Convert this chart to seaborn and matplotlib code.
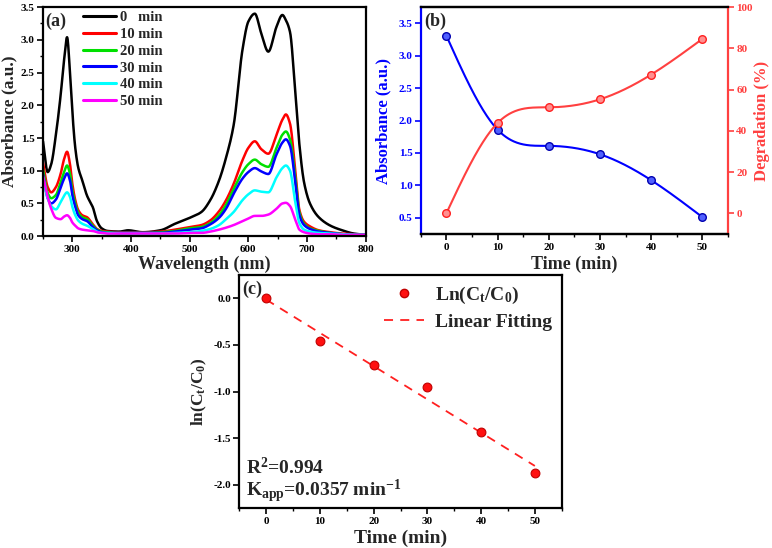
import numpy as np
import pandas as pd
import matplotlib
matplotlib.use("Agg")
import matplotlib.pyplot as plt
from matplotlib.ticker import MultipleLocator
from matplotlib.lines import Line2D
import seaborn as sns

# ---------------- data ----------------
wavelength = [250, 258, 264, 272, 280, 286, 291, 296, 300, 305,
              310, 317, 325, 335, 342, 350, 360, 380, 395, 420,
              450, 475, 500, 520, 535, 550, 562, 575, 590, 600,
              611, 622, 634, 648, 658, 664, 671, 680, 687, 695,
              705, 720, 740, 760, 780, 800]
abs_0 = [1.45, 0.98, 1.10, 1.55, 2.15, 2.70, 3.04, 2.50, 1.90, 1.35,
         1.05, 0.85, 0.62, 0.44, 0.23, 0.12, 0.08, 0.07, 0.09, 0.06,
         0.09, 0.19, 0.28, 0.37, 0.55, 0.85, 1.20, 1.70, 2.85, 3.28,
         3.40, 3.10, 2.82, 3.20, 3.38, 3.30, 3.12, 2.20, 1.40, 0.82,
         0.50, 0.29, 0.16, 0.09, 0.04, 0.02]
abs_10 = [1.12, 0.75, 0.67, 0.75, 0.95, 1.18, 1.29, 1.10, 0.80, 0.55,
          0.40, 0.32, 0.29, 0.18, 0.11, 0.08, 0.07, 0.06, 0.06, 0.06,
          0.07, 0.10, 0.14, 0.17, 0.24, 0.38, 0.55, 0.80, 1.16, 1.35,
          1.45, 1.33, 1.26, 1.55, 1.78, 1.86, 1.72, 1.00, 0.40, 0.22,
          0.15, 0.09, 0.06, 0.04, 0.03, 0.02]
abs_20 = [1.02, 0.66, 0.58, 0.63, 0.82, 0.98, 1.08, 0.95, 0.70, 0.50,
          0.36, 0.29, 0.26, 0.16, 0.10, 0.07, 0.06, 0.05, 0.05, 0.05,
          0.06, 0.08, 0.12, 0.14, 0.20, 0.32, 0.48, 0.72, 0.98, 1.10,
          1.17, 1.10, 1.06, 1.35, 1.55, 1.60, 1.48, 0.90, 0.36, 0.19,
          0.12, 0.08, 0.05, 0.03, 0.02, 0.02]
abs_30 = [0.95, 0.58, 0.50, 0.56, 0.74, 0.88, 0.96, 0.85, 0.63, 0.45,
          0.32, 0.26, 0.23, 0.14, 0.09, 0.06, 0.05, 0.05, 0.05, 0.05,
          0.05, 0.07, 0.10, 0.12, 0.18, 0.28, 0.42, 0.65, 0.88, 0.98,
          1.04, 0.99, 0.95, 1.25, 1.43, 1.48, 1.38, 0.83, 0.32, 0.17,
          0.11, 0.07, 0.05, 0.03, 0.02, 0.02]
abs_40 = [0.90, 0.58, 0.46, 0.41, 0.52, 0.62, 0.67, 0.60, 0.45, 0.32,
          0.24, 0.19, 0.16, 0.11, 0.07, 0.05, 0.05, 0.04, 0.04, 0.04,
          0.04, 0.05, 0.06, 0.08, 0.11, 0.17, 0.26, 0.37, 0.55, 0.64,
          0.70, 0.68, 0.67, 0.90, 1.04, 1.08, 1.00, 0.52, 0.20, 0.10,
          0.07, 0.05, 0.04, 0.03, 0.02, 0.02]
abs_50 = [0.92, 0.60, 0.42, 0.28, 0.26, 0.30, 0.32, 0.28, 0.21, 0.16,
          0.12, 0.10, 0.09, 0.08, 0.06, 0.05, 0.04, 0.04, 0.04, 0.04,
          0.04, 0.04, 0.05, 0.05, 0.07, 0.10, 0.13, 0.17, 0.23, 0.27,
          0.31, 0.31, 0.33, 0.42, 0.50, 0.51, 0.46, 0.25, 0.10, 0.06,
          0.04, 0.03, 0.03, 0.02, 0.02, 0.02]
spectra_labels = ["0   min", "10 min", "20 min", "30 min", "40 min", "50 min"]
spectra = [abs_0, abs_10, abs_20, abs_30, abs_40, abs_50]

time_min = [0, 10, 20, 30, 40, 50]
absorbance_peak = [3.31, 1.86, 1.61, 1.48, 1.08, 0.51]
degradation = [0.0, 43.8, 51.4, 55.3, 67.3, 84.6]
ln_ct_c0 = [0.0, -0.46, -0.72, -0.955, -1.43, -1.87]

# ---------------- helpers (smooth drawing only) ----------------
def pchip(x, y, xn):
    x = np.asarray(x, float); y = np.asarray(y, float)
    h = np.diff(x); d = np.diff(y) / h
    m = np.zeros_like(y)
    for k in range(1, len(x) - 1):
        if d[k - 1] * d[k] > 0:
            w1 = 2 * h[k] + h[k - 1]; w2 = h[k] + 2 * h[k - 1]
            m[k] = (w1 + w2) / (w1 / d[k - 1] + w2 / d[k])
    m[0] = d[0]; m[-1] = d[-1]
    idx = np.clip(np.searchsorted(x, xn) - 1, 0, len(x) - 2)
    t = (xn - x[idx]) / h[idx]
    h00 = 2 * t**3 - 3 * t**2 + 1; h10 = t**3 - 2 * t**2 + t
    h01 = -2 * t**3 + 3 * t**2; h11 = t**3 - t**2
    return h00 * y[idx] + h10 * h[idx] * m[idx] + h01 * y[idx + 1] + h11 * h[idx] * m[idx + 1]

def natural_spline(x, y, xn):
    x = np.asarray(x, float); y = np.asarray(y, float)
    n = len(x); h = np.diff(x)
    A = np.zeros((n, n)); b = np.zeros(n)
    A[0, 0] = 1; A[-1, -1] = 1
    for i in range(1, n - 1):
        A[i, i - 1] = h[i - 1]; A[i, i] = 2 * (h[i - 1] + h[i]); A[i, i + 1] = h[i]
        b[i] = 6 * ((y[i + 1] - y[i]) / h[i] - (y[i] - y[i - 1]) / h[i - 1])
    M = np.linalg.solve(A, b)
    idx = np.clip(np.searchsorted(x, xn) - 1, 0, n - 2)
    xi = x[idx]; xi1 = x[idx + 1]; hi = h[idx]
    return (M[idx] * (xi1 - xn)**3 / (6 * hi) + M[idx + 1] * (xn - xi)**3 / (6 * hi)
            + (y[idx] / hi - M[idx] * hi / 6) * (xi1 - xn)
            + (y[idx + 1] / hi - M[idx + 1] * hi / 6) * (xn - xi))

# ---------------- style ----------------
sns.set_theme(style="ticks")
plt.rcParams['font.family'] = ['Liberation Serif', 'DejaVu Serif']
plt.rcParams.update({
    'font.weight': 'bold', 'axes.labelweight': 'bold',
    'mathtext.fontset': 'custom', 'mathtext.rm': 'Liberation Serif:bold',
    'mathtext.it': 'Liberation Serif:bold', 'mathtext.bf': 'Liberation Serif:bold',
    'mathtext.default': 'bf', 'axes.unicode_minus': False,
    'xtick.direction': 'out', 'ytick.direction': 'out',
    'xtick.major.size': 4, 'ytick.major.size': 4,
    'xtick.minor.size': 2, 'ytick.minor.size': 2,
    'xtick.major.width': 1.2, 'ytick.major.width': 1.2,
    'xtick.minor.width': 1.0, 'ytick.minor.width': 1.0,
    'xtick.major.pad': 2.5, 'ytick.major.pad': 2,
    'axes.linewidth': 1.6, 'xtick.labelsize': 8, 'ytick.labelsize': 8,
    'axes.edgecolor': 'black', 'xtick.color': 'black', 'ytick.color': 'black',
})

fig = plt.figure(figsize=(7.72, 5.48), dpi=100)

# ---------------- panel (a) ----------------
axa = fig.add_axes([0.0557, 0.569, 0.418, 0.418])
colors_a = ['#000000', '#ff0000', '#00e000', '#0000ff', '#00ffff', '#ff00ff']
wl_dense = np.linspace(250, 800, 1100)
for lab, vals, col in zip(spectra_labels, spectra, colors_a):
    df = pd.DataFrame({'wl': wl_dense, 'A': pchip(wavelength, vals, wl_dense)})
    sns.lineplot(data=df, x='wl', y='A', ax=axa, color=col, lw=1.8, label=lab,
                 estimator=None, sort=False)
axa.set_xlim(250, 800); axa.set_ylim(0, 3.5)
axa.xaxis.set_major_locator(MultipleLocator(100)); axa.xaxis.set_minor_locator(MultipleLocator(50))
axa.yaxis.set_major_locator(MultipleLocator(0.5)); axa.yaxis.set_minor_locator(MultipleLocator(0.25))
axa.set_xticks([300, 400, 500, 600, 700, 800])
axa.set_yticklabels([f"{v:.1f}" for v in axa.get_yticks()])
axa.set_xlabel("Wavelength (nm)", fontsize=13)
axa.set_ylabel("Absorbance (a.u.)", fontsize=12.5)
axa.xaxis.set_label_coords(0.5, -0.085)
axa.yaxis.set_label_coords(-0.08, 0.5)
axa.text(0.008, 0.975, "(a)", transform=axa.transAxes, fontsize=13, va='top', ha='left')
leg = axa.legend(loc='upper left', bbox_to_anchor=(0.1, 1.015), frameon=False, fontsize=10.5,
                 handlelength=2.3, handletextpad=0.25, labelspacing=0.245, borderaxespad=0.1)
for ln in leg.get_lines():
    ln.set_linewidth(2.2)

# ---------------- panel (b) ----------------
blue_c = '#0000ff'; red_c = '#ff4040'
axb = fig.add_axes([0.545, 0.573, 0.398, 0.414])
t_dense = np.linspace(0, 50, 400)
dfb = pd.DataFrame({'t': t_dense, 'A': natural_spline(time_min, absorbance_peak, t_dense)})
sns.lineplot(data=dfb, x='t', y='A', ax=axb, color=blue_c, lw=1.5, estimator=None)
sns.scatterplot(x=time_min, y=absorbance_peak, ax=axb, color='#5060ff', edgecolor='#0000b0',
                s=30, linewidth=1.0, zorder=5)
axb.set_xlim(-5, 55); axb.set_ylim(0.25, 3.75)
axb.xaxis.set_major_locator(MultipleLocator(10)); axb.xaxis.set_minor_locator(MultipleLocator(5))
axb.set_yticks([0.5, 1.0, 1.5, 2.0, 2.5, 3.0, 3.5])
axb.set_yticklabels([f"{v:.1f}" for v in axb.get_yticks()])
axb.tick_params(axis='y', colors=blue_c)
axb.spines['left'].set_color(blue_c)
axb.spines['right'].set_visible(False)
axb.set_xlabel("Time (min)", fontsize=13)
axb.set_ylabel("Absorbance (a.u.)", fontsize=12, color=blue_c)
axb.xaxis.set_label_coords(0.5, -0.095)
axb.yaxis.set_label_coords(-0.095, 0.5)
axb.text(0.01, 0.975, "(b)", transform=axb.transAxes, fontsize=13, va='top', ha='left')

axb2 = axb.twinx()
dfd = pd.DataFrame({'t': t_dense, 'D': natural_spline(time_min, degradation, t_dense)})
sns.lineplot(data=dfd, x='t', y='D', ax=axb2, color=red_c, lw=1.5, estimator=None)
sns.scatterplot(x=time_min, y=degradation, ax=axb2, color='#ff9090', edgecolor='#ff2020',
                s=30, linewidth=1.0, zorder=5)
axb2.set_ylim(-10, 100)
axb2.set_yticks([0, 20, 40, 60, 80, 100])
axb2.tick_params(axis='y', colors=red_c)
axb2.spines['right'].set_color(red_c)
axb2.spines['left'].set_visible(False)
axb2.set_ylabel("Degradation (%)", fontsize=12, color=red_c)
axb2.yaxis.set_label_coords(1.085, 0.5)

# ---------------- panel (c) ----------------
axc = fig.add_axes([0.310, 0.073, 0.4176, 0.425])
slope, intercept = np.polyfit(time_min, ln_ct_c0, 1)
fit_t = np.array([0, 50])
sns.lineplot(x=fit_t, y=slope * fit_t + intercept, ax=axc, color='#ff2020', lw=1.3,
             linestyle=(0, (5, 4)))
sns.scatterplot(x=time_min, y=ln_ct_c0, ax=axc, color='#ff1010', edgecolor='#c00000',
                s=40, linewidth=0.8, zorder=5)
axc.set_xlim(-5, 55); axc.set_ylim(-2.25, 0.25)
axc.xaxis.set_major_locator(MultipleLocator(10)); axc.xaxis.set_minor_locator(MultipleLocator(5))
axc.set_yticks([0.0, -0.5, -1.0, -1.5, -2.0])
axc.set_yticklabels([f"{v:.1f}" for v in axc.get_yticks()])
axc.set_xlabel("Time (min)", fontsize=14)
axc.set_ylabel("ln(C$_t$/C$_0$)", fontsize=12.5)
axc.xaxis.set_label_coords(0.5, -0.094)
axc.yaxis.set_label_coords(-0.094, 0.5)
axc.text(0.01, 0.975, "(c)", transform=axc.transAxes, fontsize=13, va='top', ha='left')
axc.text(0.02, 0.012, "R$^2$=0.994\nK$_{app}$=0.0357 min$^{-1}$", transform=axc.transAxes,
         fontsize=14, ha='left', va='bottom', linespacing=1.0)
handles = [Line2D([], [], marker='o', ls='none', color='#ff1010', markeredgecolor='#c00000', markersize=6),
           Line2D([], [], color='#ff2020', lw=1.3, ls=(0, (5, 4)))]
axc.legend(handles, ['Ln(C$_t$/C$_0$)', 'Linear Fitting'], loc='upper right',
           bbox_to_anchor=(1.0, 1.0), frameon=False, fontsize=14, handlelength=2.06,
           handletextpad=0.56, labelspacing=0.38, borderaxespad=0.1)

fig.savefig("out.png", dpi=100)
